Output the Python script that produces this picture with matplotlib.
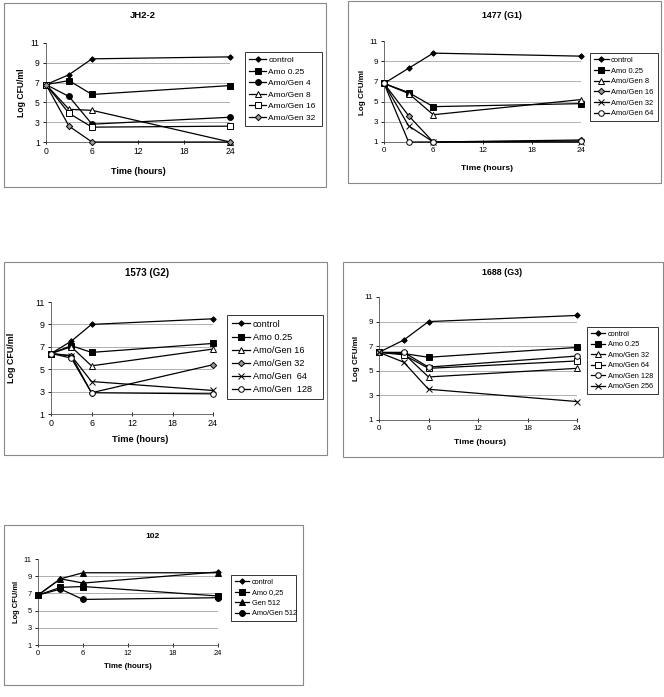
import matplotlib
matplotlib.use("Agg")
import matplotlib.pyplot as plt
from matplotlib.patches import Rectangle

plt.rcParams['font.family'] = ['Liberation Sans', 'DejaVu Sans']

W, H = 664, 697
hours = [0, 3, 6, 24]

# JH2-2
jh_labels = ["control", "Amo 0.25", "Amo/Gen 4", "Amo/Gen 8", "Amo/Gen 16", "Amo/Gen 32"]
jh_values = [
    [6.8, 7.8, 9.4, 9.6],
    [6.8, 7.2, 5.8, 6.7],
    [6.8, 5.6, 2.8, 3.5],
    [6.8, 4.3, 4.2, 1.0],
    [6.8, 3.9, 2.5, 2.6],
    [6.8, 2.6, 1.0, 1.0],
]
# 1477 (G1)
g1_labels = ["control", "Amo 0.25", "Amo/Gen 8", "Amo/Gen 16", "Amo/Gen 32", "Amo/Gen 64"]
g1_values = [
    [6.8, 8.3, 9.8, 9.5],
    [6.8, 5.9, 4.5, 4.8],
    [6.8, 5.8, 3.7, 5.2],
    [6.8, 3.6, 1.0, 1.2],
    [6.8, 2.6, 1.0, 1.0],
    [6.8, 1.0, 1.0, 1.1],
]
# 1573 (G2)
g2_labels = ["control", "Amo 0.25", "Amo/Gen 16", "Amo/Gen 32", "Amo/Gen  64", "Amo/Gen  128"]
g2_values = [
    [6.4, 7.5, 9.0, 9.5],
    [6.4, 7.1, 6.5, 7.3],
    [6.4, 7.0, 5.3, 6.8],
    [6.4, 6.2, 2.9, 5.4],
    [6.4, 6.2, 3.9, 3.1],
    [6.4, 6.0, 2.9, 2.8],
]
# 1688 (G3)
g3_labels = ["control", "Amo 0.25", "Amo/Gen 32", "Amo/Gen 64", "Amo/Gen 128", "Amo/Gen 256"]
g3_values = [
    [6.5, 7.5, 9.0, 9.5],
    [6.5, 6.4, 6.1, 6.9],
    [6.5, 6.4, 4.5, 5.2],
    [6.5, 6.3, 5.2, 5.8],
    [6.5, 6.5, 5.3, 6.2],
    [6.5, 5.7, 3.5, 2.5],
]
# 102
s102_labels = ["control", "Amo 0,25", "Gen 512", "Amo/Gen 512"]
s102_values = [
    [6.8, 8.7, 8.2, 9.5],
    [6.8, 7.7, 7.8, 6.7],
    [6.8, 8.7, 9.4, 9.4],
    [6.8, 7.5, 6.3, 6.5],
]

# marker styles: (marker, size, facecolor)
DIA = ('D', 2.8, 'black')
SQ = ('s', 4.2, 'black')
CIR = ('o', 4.2, 'black')
TRI = ('^', 4.2, 'white')
OSQ = ('s', 4.0, 'white')
GDIA = ('D', 3.2, '#999999')
STAR = ('x', 3.8, 'black')
OCIR = ('o', 4.0, 'white')
FTRI = ('^', 4.2, 'black')

panels = [
    dict(title="JH2-2", labels=jh_labels, values=jh_values,
         styles=[DIA, SQ, CIR, TRI, OSQ, GDIA],
         frame=(4, 326, 3, 187), plot=(46, 230, 43, 142), leg=(245, 322, 52, 128),
         tpos=(143, 15), ypos=(21, 93), xpos=(138, 171), fs=6.2, lfs=6.0),
    dict(title="1477 (G1)", labels=g1_labels, values=g1_values,
         styles=[DIA, SQ, TRI, GDIA, STAR, OCIR],
         frame=(348, 661, 1, 183), plot=(384, 581, 41, 142), leg=(590, 658, 53, 132),
         tpos=(502, 15), ypos=(362, 92), xpos=(487, 169), fs=5.8, lfs=5.4),
    dict(title="1573 (G2)", labels=g2_labels, values=g2_values,
         styles=[DIA, SQ, TRI, GDIA, STAR, OCIR],
         frame=(4, 327, 262, 455), plot=(51, 213, 302, 414), leg=(227, 323, 315, 397),
         tpos=(147, 273), ypos=(12, 358), xpos=(140, 440), fs=6.4, lfs=6.6),
    dict(title="1688 (G3)", labels=g3_labels, values=g3_values,
         styles=[DIA, SQ, TRI, OSQ, OCIR, STAR],
         frame=(343, 663, 262, 457), plot=(379, 577, 297, 420), leg=(587, 658, 327, 393),
         tpos=(502, 273), ypos=(356, 358), xpos=(480, 443), fs=5.8, lfs=5.3),
    dict(title="102", labels=s102_labels, values=s102_values,
         styles=[DIA, SQ, FTRI, CIR],
         frame=(4, 303, 525, 685), plot=(38, 218, 559, 645), leg=(231, 296, 575, 622),
         tpos=(153, 537), ypos=(17, 602), xpos=(128, 667), fs=5.4, lfs=5.3),
]

fig = plt.figure(figsize=(W / 100, H / 100), dpi=100)


def fx(px):
    return px / W


def fy(py):
    return 1 - py / H


for p in panels:
    x0, x1, y0, y1 = p['frame']
    fig.add_artist(Rectangle((fx(x0), fy(y1)), fx(x1 - x0), (y1 - y0) / H,
                             transform=fig.transFigure, fill=False,
                             edgecolor='#888888', linewidth=0.8))
    px0, px1, py0, py1 = p['plot']
    ax = fig.add_axes([fx(px0), fy(py1), fx(px1 - px0), (py1 - py0) / H])
    ax.set_xlim(0, 24)
    ax.set_ylim(1, 11)
    ax.set_xticks([0, 6, 12, 18, 24])
    ax.set_yticks([1, 3, 5, 7, 9, 11])
    ax.tick_params(labelsize=p['fs'], length=2.5, width=0.6, pad=2)
    ax.tick_params(axis='x', direction='inout', length=3)
    for s in ['top', 'right']:
        ax.spines[s].set_visible(False)
    for s in ['left', 'bottom']:
        ax.spines[s].set_linewidth(0.6)
        ax.spines[s].set_color('#555555')
    ax.yaxis.grid(True, color='#b0b0b0', linewidth=0.7)
    ax.get_ygridlines()[-1].set_visible(False)
    ax.get_ygridlines()[0].set_visible(False)
    ax.set_axisbelow(True)
    ax.patch.set_alpha(0)

    handles = []
    for lab, vals, (m, ms, fc) in zip(p['labels'], p['values'], p['styles']):
        ln, = ax.plot(hours, vals, color='black', linewidth=0.9, marker=m,
                      markersize=ms, markerfacecolor=fc, markeredgecolor='black',
                      markeredgewidth=0.7, clip_on=False, label=lab, zorder=3)
        handles.append(ln)

    lx0, lx1, ly0, ly1 = p['leg']
    leg = fig.legend(handles=handles, loc='upper left',
                     bbox_to_anchor=(fx(lx0), fy(ly1), fx(lx1 - lx0), (ly1 - ly0) / H),
                     mode='expand', fontsize=p['lfs'], frameon=True, fancybox=False,
                     handlelength=2.0, handletextpad=0.3, borderpad=0.5,
                     labelspacing=0.45, borderaxespad=0)
    leg.get_frame().set_edgecolor('black')
    leg.get_frame().set_linewidth(0.7)

    tx, ty = p['tpos']
    fig.text(fx(tx), fy(ty), p['title'], ha='center', va='center',
             fontsize=p['fs'] + 0.6, fontweight='bold')
    yx, yy = p['ypos']
    fig.text(fx(yx), fy(yy), "Log CFU/ml", ha='center', va='center', rotation=90,
             fontsize=p['fs'], fontweight='bold')
    xx, xy = p['xpos']
    fig.text(fx(xx), fy(xy), "Time (hours)", ha='center', va='center',
             fontsize=p['fs'] + 0.3, fontweight='bold')

fig.savefig("out.png", dpi=100, facecolor='white')
